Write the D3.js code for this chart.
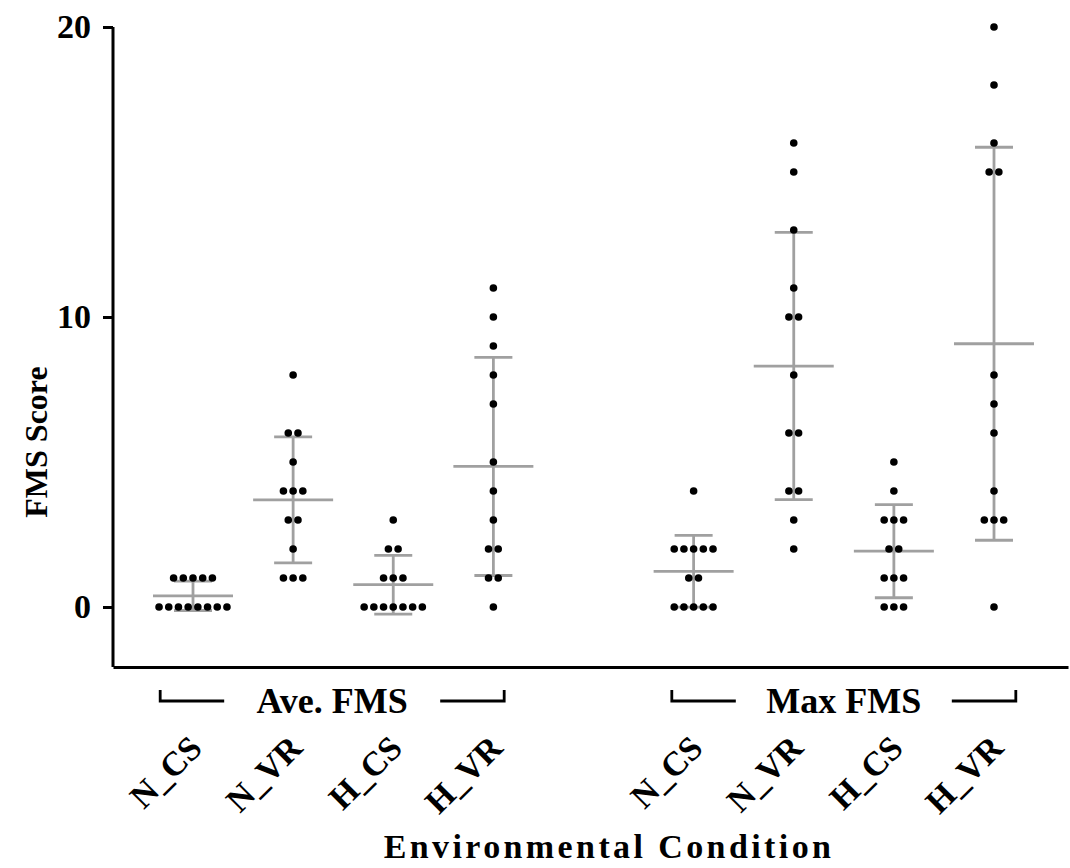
<!DOCTYPE html>
<html lang="en">
<head>
    <meta charset="UTF-8">
    <title>FMS Score</title>
    <script src="https://d3js.org/d3.v7.min.js"></script>
    <style>
        body { margin: 0; background: #fff; }
        text { font-family: "Liberation Serif", "Times New Roman", serif; font-weight: bold; fill: #000; }
    </style>
</head>
<body>
    <div id="plot"></div>

    <script>
        function translate(x, y){
            return 'translate(' + x + ', ' + y + ')';
        }

        // data (13 subjects per condition)
        let categories = ['N_CS', 'N_VR', 'H_CS', 'H_VR'];
        let groups = ['Ave. FMS', 'Max FMS'];
        let yTicks = [0, 10, 20];

        let aveNCS = [1, 1, 1, 1, 1, 0, 0, 0, 0, 0, 0, 0, 0];
        let aveNVR = [8, 6, 6, 5, 4, 4, 4, 3, 3, 2, 1, 1, 1];
        let aveHCS = [3, 2, 2, 1, 1, 1, 0, 0, 0, 0, 0, 0, 0];
        let aveHVR = [11, 10, 9, 8, 7, 5, 4, 3, 2, 2, 1, 1, 0];
        let maxNCS = [4, 2, 2, 2, 2, 2, 1, 1, 0, 0, 0, 0, 0];
        let maxNVR = [16, 15, 13, 11, 10, 10, 8, 6, 6, 4, 4, 3, 2];
        let maxHCS = [5, 4, 3, 3, 3, 2, 2, 1, 1, 1, 0, 0, 0];
        let maxHVR = [20, 18, 16, 15, 15, 8, 7, 6, 4, 3, 3, 3, 0];

        let seriesByGroup = [
            [aveNCS, aveNVR, aveHCS, aveHVR],
            [maxNCS, maxNVR, maxHCS, maxHVR]
        ];

        let svgWidth = 1070;
        let svgHeight = 868;

        let svg = d3.select('#plot')
                    .append('svg')
                        .attr('width', svgWidth)
                        .attr('height', svgHeight);

        // one empty slot between the two groups
        let slots = [];
        groups.forEach(function(g, gi){
            if (gi > 0) slots.push('gap' + gi);
            categories.forEach(c => slots.push(g + '|' + c));
        });

        let x = d3.scalePoint().domain(slots).range([193, 994]);
        let y = d3.scaleLinear().domain([-2.07, 20]).range([667, 27]);
        let frame = d3.scaleLinear().domain([0, 1]).range([113, 1068]);

        let conds = [];
        groups.forEach(function(g, gi){
            categories.forEach(function(c, ci){
                let vals = seriesByGroup[gi][ci];
                conds.push({
                    key: g + '|' + c,
                    group: g,
                    cat: c,
                    values: vals,
                    mean: d3.mean(vals),
                    sd: d3.deviation(vals)
                });
            });
        });

        // mean and SD bars
        let grey = '#a0a0a0';
        let bars = svg.append('g')
                      .attr('stroke', grey)
                      .attr('stroke-width', 2.8);

        conds.forEach(function(d){
            let cx = x(d.key);
            bars.append('line')
                .attr('x1', cx).attr('x2', cx)
                .attr('y1', y(d.mean - d.sd)).attr('y2', y(d.mean + d.sd));
            bars.append('line')
                .attr('x1', cx - 19).attr('x2', cx + 19)
                .attr('y1', y(d.mean + d.sd)).attr('y2', y(d.mean + d.sd));
            bars.append('line')
                .attr('x1', cx - 19).attr('x2', cx + 19)
                .attr('y1', y(d.mean - d.sd)).attr('y2', y(d.mean - d.sd));
            bars.append('line')
                .attr('x1', cx - 40).attr('x2', cx + 40)
                .attr('y1', y(d.mean)).attr('y2', y(d.mean));
        });

        // dots, spread horizontally when they share a value
        let spacing = 9.7;
        let points = [];
        conds.forEach(function(d){
            let counts = d3.rollup(d.values, v => v.length, v => v);
            counts.forEach(function(n, v){
                for (let i = 0; i < n; i++) {
                    points.push({ key: d.key, value: v, offset: (i - (n - 1) / 2) * spacing });
                }
            });
        });

        svg.append('g')
            .selectAll('circle')
            .data(points)
            .join('circle')
                .attr('r', 3.8)
                .attr('cx', d => x(d.key) + d.offset)
                .attr('cy', d => y(d.value))
                .attr('fill', '#000');

        // axes
        let yAxis = d3.axisLeft(y)
                      .tickValues(yTicks)
                      .tickSize(10)
                      .tickSizeOuter(0)
                      .tickPadding(12);

        let gy = svg.append('g')
                    .attr('transform', translate(113, 0))
                    .call(yAxis);
        gy.select('.domain').attr('stroke-width', 3).attr('d', 'M0,' + y(20) + 'V' + y(-2.07));
        gy.selectAll('.tick line').attr('stroke-width', 3);
        gy.selectAll('.tick text')
            .style('font-size', '34px')
            .style('font-family', '"Liberation Serif", serif')
            .style('font-weight', 'bold');

        let xAxis = d3.axisBottom(frame).tickValues([]).tickSizeOuter(0);
        let gx = svg.append('g')
                    .attr('transform', translate(0, 667))
                    .call(xAxis);
        gx.select('.domain').attr('stroke-width', 3);

        // category labels
        svg.append('g')
            .selectAll('text')
            .data(conds)
            .join('text')
                .attr('transform', d => translate(x(d.key) + 11, 750) + ' rotate(-45)')
                .attr('text-anchor', 'end')
                .style('font-size', '34px')
                .text(d => d.cat);

        // group brackets
        groups.forEach(function(g, gi){
            let keys = conds.filter(d => d.group === g).map(d => x(d.key));
            let mid = (d3.min(keys) + d3.max(keys)) / 2 + (gi === 0 ? -11 : 0);
            let by = 701;
            let half = 172;
            let inner = 108;
            let br = svg.append('g')
                        .attr('stroke', '#000')
                        .attr('stroke-width', 2.8)
                        .attr('fill', 'none');
            br.append('path')
                .attr('d', 'M' + (mid - half) + ',' + (by - 11) + 'V' + by + 'H' + (mid - inner));
            br.append('path')
                .attr('d', 'M' + (mid + inner) + ',' + by + 'H' + (mid + half) + 'V' + (by - 11));
            svg.append('text')
                .attr('x', mid)
                .attr('y', 713)
                .attr('text-anchor', 'middle')
                .style('font-size', '36px')
                .text(g);
        });

        // axis titles
        svg.append('text')
            .attr('transform', translate(47, 442) + ' rotate(-90)')
            .attr('text-anchor', 'middle')
            .style('font-size', '32px')
            .text('FMS Score');

        svg.append('text')
            .attr('x', 609)
            .attr('y', 858)
            .attr('text-anchor', 'middle')
            .style('font-size', '34px')
            .style('letter-spacing', '3.4px')
            .text('Environmental Condition');
    </script>
</body>
</html>
